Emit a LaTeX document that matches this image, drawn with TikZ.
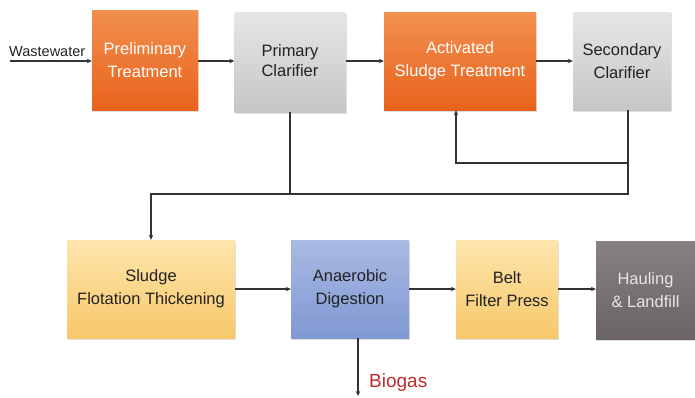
\documentclass[tikz,border=0pt]{standalone}
\usepackage{fontspec}
\setmainfont{Liberation Sans}
\usetikzlibrary{arrows.meta,shadows,calc}
\definecolor{orT}{HTML}{F2904F}
\definecolor{orB}{HTML}{E8621C}
\definecolor{grT}{HTML}{E6E6E6}
\definecolor{grB}{HTML}{C6C6C6}
\definecolor{yeT}{HTML}{FDE5AC}
\definecolor{yeB}{HTML}{F8C86A}
\definecolor{blT}{HTML}{A9BAE3}
\definecolor{blB}{HTML}{8098D3}
\definecolor{dkT}{HTML}{878282}
\definecolor{dkB}{HTML}{696363}
\definecolor{linec}{HTML}{333333}
\definecolor{txtc}{HTML}{222222}
\definecolor{biogasc}{HTML}{C0282A}
\tikzset{
  x=1pt,y=-1pt,
  box/.style={rectangle, inner sep=0pt, align=center,
    font=\fontsize{16.5}{23}\selectfont, text=txtc,
    drop shadow={opacity=0.25, shadow xshift=1.2pt, shadow yshift=-1.5pt}},
  orbox/.style={box, top color=orT, bottom color=orB, text=white},
  grbox/.style={box, top color=grT, bottom color=grB},
  yebox/.style={box, top color=yeT, bottom color=yeB},
  blbox/.style={box, top color=blT, bottom color=blB},
  dkbox/.style={box, top color=dkT, bottom color=dkB, text=grT},
  conn/.style={draw=linec, line width=1.4pt},
  arr/.style={conn, -{Stealth[length=5pt,width=4.5pt]}},
}
\begin{document}
\begin{tikzpicture}
\useasboundingbox (0,0) rectangle (695,397);
% top row
\node[orbox, minimum width=106pt, minimum height=100pt] (pre) at (145,60) {Preliminary\\Treatment};
\node[grbox, minimum width=111pt, minimum height=100pt] (pc) at (290,62) {\raisebox{7pt}{\begin{tabular}{@{}c@{}}Primary\\[-3pt]Clarifier\end{tabular}}};
\node[orbox, minimum width=152pt, minimum height=98pt] (as) at (460,61) {Activated\\Sludge Treatment};
\node[grbox, minimum width=98pt, minimum height=98pt] (sc) at (622,61) {Secondary\\Clarifier};
% bottom row
\node[yebox, minimum width=168pt, minimum height=98pt] (sft) at (151,289) {Sludge\\Flotation Thickening};
\node[blbox, minimum width=118pt, minimum height=98pt] (ad) at (350,289) {Anaerobic\\Digestion};
\node[yebox, minimum width=102pt, minimum height=98pt] (bfp) at (507,289) {Belt\\Filter Press};
\node[dkbox, minimum width=99pt, minimum height=98pt] (hl) at (645.5,290) {Hauling\\\& Landfill};
% input
\coordinate (ws) at (10,61);
\draw[arr] (ws) -- (ws -| pre.west);
\node[font=\fontsize{14.5}{17}\selectfont, text=txtc, anchor=south west, inner sep=0pt] (wsl) at (9,57) {Wastewater};
% top connectors
\draw[arr] (pre.east |- 0,61) -- (pc.west |- 0,61);
\draw[arr] (pc.east |- 0,61) -- (as.west |- 0,61);
\draw[arr] (as.east |- 0,61) -- (sc.west |- 0,61);
% return and waste sludge
\coordinate (fb) at (628,163);
\coordinate (j) at (628,194);
\coordinate (ret) at (456,163);
\draw[arr] (sc.south -| fb) -- (fb) -- (ret) -- (ret |- as.south);
\draw[arr] (fb) -- (j) -- (j -| sft.north) -- (sft.north);
\draw[conn] (pc.south) -- (pc.south |- j);
% bottom connectors
\draw[arr] (sft.east) -- (ad.west);
\draw[arr] (ad.east) -- (bfp.west);
\draw[arr] (bfp.east) -- (hl.west |- bfp.east);
\coordinate (bg) at (358,396);
\draw[arr] (ad.south -| bg) -- (bg);
\node[font=\fontsize{19}{22}\selectfont, text=biogasc, anchor=west, inner sep=0pt] (bgl) at (369,383) {Biogas};
\end{tikzpicture}
\end{document}
